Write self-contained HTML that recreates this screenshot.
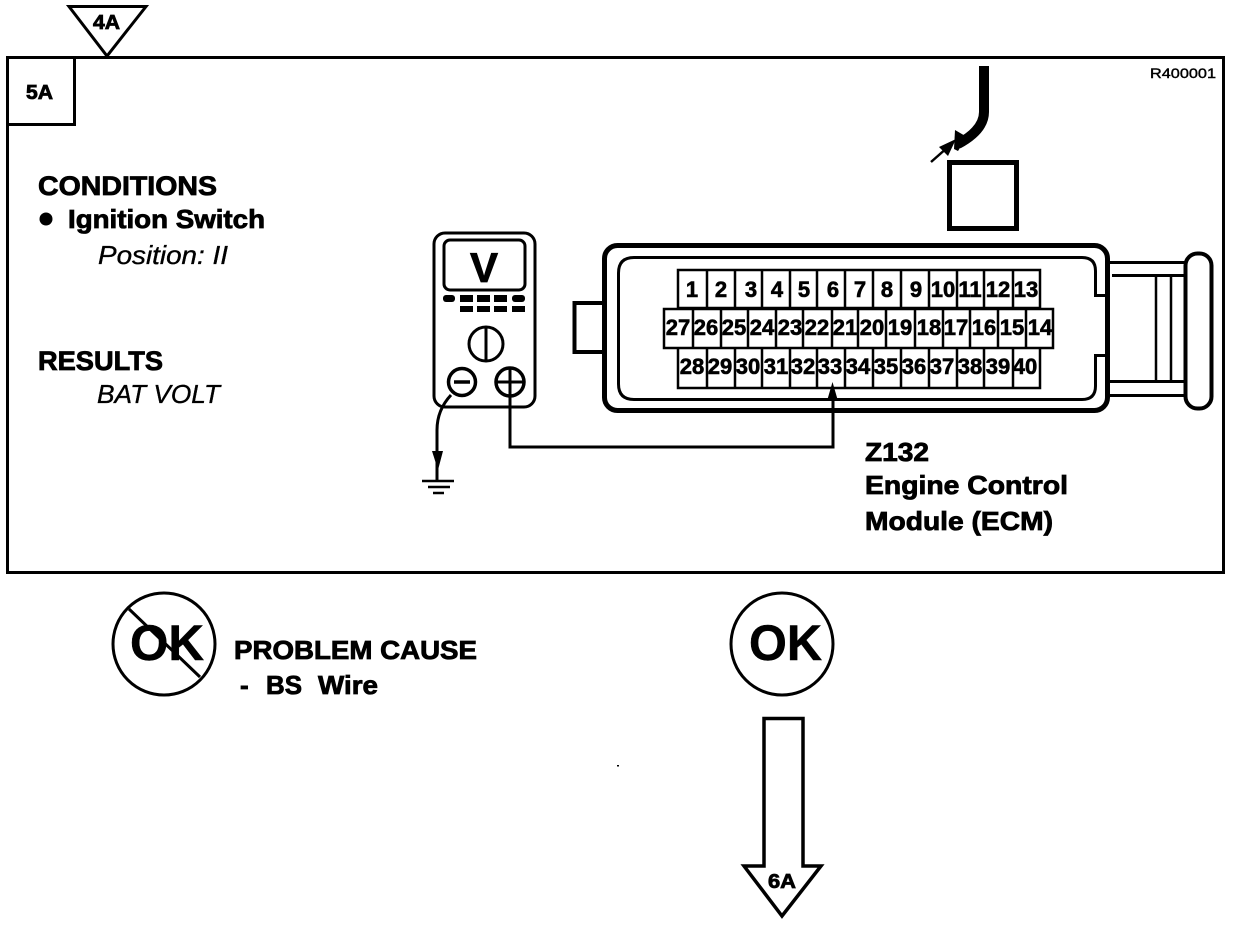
<!DOCTYPE html>
<html>
<head>
<meta charset="utf-8">
<style>
html,body{margin:0;padding:0;background:#fff}
svg{display:block}
text{font-family:"Liberation Sans",sans-serif;fill:#000}
.b{font-weight:bold;stroke:#000;stroke-width:.8}
.i{font-style:italic;stroke:#000;stroke-width:.35}
.n{font-weight:bold;font-size:22px;text-anchor:middle;stroke:#000;stroke-width:.6}
.l{fill:none;stroke:#000}
</style>
</head>
<body>
<svg width="1248" height="926" viewBox="0 0 1248 926" xmlns="http://www.w3.org/2000/svg">
<!-- frame -->
<rect class="l" x="7.5" y="57.5" width="1216" height="515" stroke-width="3"/>
<rect class="l" x="7.5" y="57.5" width="67" height="67" stroke-width="3"/>
<polygon points="69,6.5 146,6.5 107,56" fill="#fff" stroke="#000" stroke-width="3"/>
<text class="b" x="93" y="29" font-size="20" textLength="27" lengthAdjust="spacingAndGlyphs">4A</text>
<text class="b" x="26" y="99" font-size="20" textLength="27" lengthAdjust="spacingAndGlyphs">5A</text>
<text x="1150" y="78" font-size="13.5" textLength="66" lengthAdjust="spacingAndGlyphs" stroke="#000" stroke-width=".4">R400001</text>

<!-- left text -->
<text class="b" x="38" y="195" font-size="27" textLength="179" lengthAdjust="spacingAndGlyphs">CONDITIONS</text>
<circle cx="46" cy="219" r="6.5"/>
<text class="b" x="68" y="228" font-size="26" textLength="197" lengthAdjust="spacingAndGlyphs">Ignition Switch</text>
<text class="i" x="98" y="264" font-size="26" textLength="130" lengthAdjust="spacingAndGlyphs">Position: II</text>
<text class="b" x="38" y="370" font-size="27" textLength="125" lengthAdjust="spacingAndGlyphs">RESULTS</text>
<text class="i" x="97" y="403" font-size="26" textLength="123" lengthAdjust="spacingAndGlyphs">BAT VOLT</text>

<!-- wire and square -->
<path class="l" d="M984,66 V112 Q984,130 958,144" stroke-width="10"/>
<path d="M955,130 L967,137 L958,151 L954,149 Z"/>
<path class="l" d="M931,162 L948,147" stroke-width="2.5"/>
<polygon points="956,139 939,147 948,156"/>
<rect class="l" x="949.5" y="162.5" width="67" height="66" stroke-width="5"/>

<!-- meter -->
<rect class="l" x="434" y="233" width="101" height="174" rx="11" stroke-width="3"/>
<rect class="l" x="444" y="240" width="81" height="50" rx="6" stroke-width="3"/>
<text class="b" x="484" y="282" font-size="42" text-anchor="middle">V</text>
<rect x="443" y="295" width="12" height="7" rx="3"/>
<rect x="460" y="295" width="13" height="7"/>
<rect x="477" y="295" width="13" height="7"/>
<rect x="494" y="295" width="13" height="7"/>
<rect x="512" y="295" width="13" height="7" rx="3"/>
<rect x="460" y="306" width="13" height="6"/>
<rect x="477" y="306" width="13" height="6"/>
<rect x="494" y="306" width="13" height="6"/>
<rect x="512" y="306" width="13" height="6"/>
<circle class="l" cx="486" cy="344" r="17" stroke-width="3"/>
<path class="l" d="M486,327 V361" stroke-width="3"/>
<circle class="l" cx="462" cy="382" r="13.5" stroke-width="3.5"/>
<path class="l" d="M454,382 H470" stroke-width="3.5"/>
<circle class="l" cx="510" cy="382" r="14" stroke-width="3.5"/>
<path class="l" d="M497,382 H524" stroke-width="3"/>
<path class="l" d="M451,395 Q437,410 437,430 V481" stroke-width="3"/>
<polygon points="432,451 443,451 438,470"/>
<path class="l" d="M422,481 H454 M428,487 H450" stroke-width="2.5"/>
<path class="l" d="M433,493 H444" stroke-width="2.5"/>

<!-- connector body -->
<rect class="l" x="574.5" y="303" width="30" height="49" stroke-width="4"/>
<rect x="600" y="305" width="6" height="45" fill="#fff"/>
<rect x="604.5" y="245.5" width="503" height="165" rx="13" fill="#fff" stroke="#000" stroke-width="5"/>
<path class="l" d="M1106,295.5 H1095.5 V271 Q1095.5,257.5 1082,257.5 H634 Q618.5,257.5 618.5,273 V384 Q618.5,399.5 634,399.5 H1082 Q1095.5,399.5 1095.5,386 V355.5 H1106" stroke-width="3"/>
<path class="l" d="M1109,262.5 H1186 M1109,381.5 H1186 M1109,395.5 H1186" stroke-width="3"/>
<path class="l" d="M1112,275.5 H1186" stroke-width="3"/>
<path class="l" d="M1156,275 V381 M1171,275 V381" stroke-width="2.5"/>
<rect x="1185.5" y="253.5" width="26" height="155" rx="12" fill="#fff" stroke="#000" stroke-width="4"/>

<!-- cells -->
<path class="l" stroke-width="2.5" d="M678,270 H1040 V308 H678 Z M707,270 V308 M735,270 V308 M762,270 V308 M790,270 V308 M817,270 V308 M845,270 V308 M873,270 V308 M901,270 V308 M929,270 V308 M957,270 V308 M984,270 V308 M1013,270 V308"/>
<path class="l" stroke-width="2.5" d="M664,309 H1053 V348 H664 Z M693,309 V348 M721,309 V348 M748,309 V348 M776,309 V348 M803,309 V348 M832,309 V348 M858,309 V348 M886,309 V348 M915,309 V348 M943,309 V348 M970,309 V348 M998,309 V348 M1026,309 V348"/>
<path class="l" stroke-width="2.5" d="M678,348 V388 H1040 V348 M707,348 V388 M735,348 V388 M762,348 V388 M790,348 V388 M817,348 V388 M845,348 V388 M873,348 V388 M901,348 V388 M929,348 V388 M957,348 V388 M984,348 V388 M1013,348 V388"/>

<text class="n" x="692" y="297">1</text><text class="n" x="721" y="297">2</text><text class="n" x="751" y="297">3</text><text class="n" x="777" y="297">4</text><text class="n" x="804" y="297">5</text><text class="n" x="833" y="297">6</text><text class="n" x="860" y="297">7</text><text class="n" x="887" y="297">8</text><text class="n" x="916" y="297">9</text><text class="n" x="943" y="297">10</text><text class="n" x="970" y="297">11</text><text class="n" x="998" y="297">12</text><text class="n" x="1026" y="297">13</text>

<text class="n" x="678" y="335">27</text><text class="n" x="706" y="335">26</text><text class="n" x="734" y="335">25</text><text class="n" x="762" y="335">24</text><text class="n" x="790" y="335">23</text><text class="n" x="817" y="335">22</text><text class="n" x="845" y="335">21</text><text class="n" x="872" y="335">20</text><text class="n" x="900" y="335">19</text><text class="n" x="929" y="335">18</text><text class="n" x="956" y="335">17</text><text class="n" x="984" y="335">16</text><text class="n" x="1012" y="335">15</text><text class="n" x="1040" y="335">14</text>

<text class="n" x="692" y="374">28</text><text class="n" x="720" y="374">29</text><text class="n" x="748" y="374">30</text><text class="n" x="776" y="374">31</text><text class="n" x="803" y="374">32</text><text class="n" x="830" y="374">33</text><text class="n" x="858" y="374">34</text><text class="n" x="886" y="374">35</text><text class="n" x="914" y="374">36</text><text class="n" x="942" y="374">37</text><text class="n" x="970" y="374">38</text><text class="n" x="998" y="374">39</text><text class="n" x="1025" y="374">40</text>

<!-- probe wire over the connector -->
<path class="l" d="M510,369 V447 H833 V395" stroke-width="3"/>
<polygon points="832.5,382 827,401 838,401"/>

<!-- connector label -->
<text class="b" x="865" y="461" font-size="26" textLength="64" lengthAdjust="spacingAndGlyphs">Z132</text>
<text class="b" x="865" y="494" font-size="26" textLength="203" lengthAdjust="spacingAndGlyphs">Engine Control</text>
<text class="b" x="865" y="530" font-size="26" textLength="188" lengthAdjust="spacingAndGlyphs">Module (ECM)</text>

<!-- NG -->
<circle class="l" cx="164" cy="644" r="51" stroke-width="3"/>
<text class="b" x="130" y="660" font-size="50" textLength="74" lengthAdjust="spacingAndGlyphs" style="stroke-width:.5">OK</text>
<path class="l" d="M129,609 L200,677" stroke-width="3"/>
<text class="b" x="234" y="659" font-size="25.5" textLength="243" lengthAdjust="spacingAndGlyphs">PROBLEM CAUSE</text>
<text class="b" x="240" y="694" font-size="26">-</text>
<text class="b" x="266" y="694" font-size="26" textLength="36" lengthAdjust="spacingAndGlyphs">BS</text>
<text class="b" x="318" y="694" font-size="26" textLength="60" lengthAdjust="spacingAndGlyphs">Wire</text>

<!-- OK -->
<circle class="l" cx="782" cy="644" r="51" stroke-width="3"/>
<text class="b" x="749" y="660" font-size="50" textLength="73" lengthAdjust="spacingAndGlyphs" style="stroke-width:.5">OK</text>
<polygon points="764,718.5 803,718.5 803,866 821,866 782,916 744,866 764,866" fill="#fff" stroke="#000" stroke-width="3.5"/>
<text class="b" x="768" y="888" font-size="20" textLength="28" lengthAdjust="spacingAndGlyphs">6A</text>
<rect x="617" y="765" width="2" height="1.5"/>
</svg>
</body>
</html>
